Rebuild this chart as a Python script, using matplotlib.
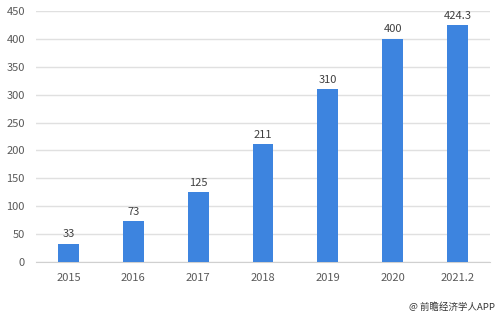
import matplotlib
matplotlib.use("Agg")
import matplotlib.pyplot as plt

categories = ["2015", "2016", "2017", "2018", "2019", "2020", "2021.2"]
values = [33, 73, 125, 211, 310, 400, 424.3]
value_labels = ["33", "73", "125", "211", "310", "400", "424.3"]
yticks = [0, 50, 100, 150, 200, 250, 300, 350, 400, 450]

plt.rcParams['font.family'] = ['Noto Sans CJK SC', 'DejaVu Sans']

fig = plt.figure(figsize=(5, 3.15), dpi=100)
ax = fig.add_axes([0.072, 0.168, 0.908, 0.797])
x = range(len(categories))
bars = ax.bar(x, values, width=0.32, color="#3d84df", zorder=3)
for xi, v, lab in zip(x, values, value_labels):
    ax.text(xi, v + 8, lab, ha="center", va="bottom", fontsize=8, color="#404040")

ax.set_xlim(-0.5, len(categories) - 0.5)
ax.set_ylim(0, 450)
ax.set_yticks(yticks)
ax.set_xticks(list(x))
ax.set_xticklabels(categories)
ax.yaxis.grid(True, color="#e0e0e0", linewidth=1, zorder=0)
for s in ["top", "right", "left"]:
    ax.spines[s].set_visible(False)
ax.spines["bottom"].set_color("#d0d0d0")
ax.tick_params(axis="both", length=0, labelsize=8, colors="#595959")
ax.tick_params(axis="x", pad=8)
ax.tick_params(axis="y", pad=8)

fig.text(0.99, 0.01, "@ 前瞻经济学人APP", ha="right", va="bottom", fontsize=6.8, color="#333333")

fig.savefig("out.png", dpi=100)
